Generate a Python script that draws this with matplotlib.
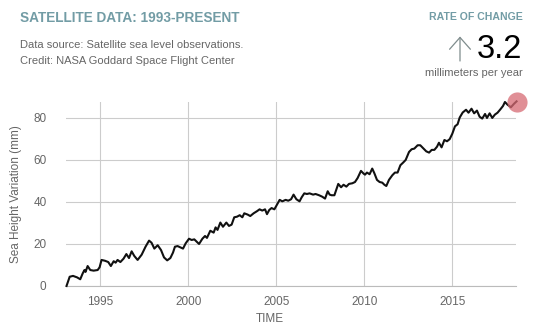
import numpy as np
import matplotlib
matplotlib.use("Agg")
import matplotlib.pyplot as plt
from matplotlib.patches import FancyArrowPatch

plt.rcParams["font.family"] = ["Liberation Sans", "DejaVu Sans"]

# satellite sea level record (year, mm)
years = [
    1993.08, 1993.26, 1993.45, 1993.68, 1993.86, 1994.00, 1994.10, 1994.16, 1994.28, 1994.43,
    1994.62, 1994.85, 1994.96, 1995.07, 1995.27, 1995.45, 1995.60, 1995.76, 1995.87, 1995.98,
    1996.14, 1996.32, 1996.48, 1996.63, 1996.78, 1996.93, 1997.12, 1997.35, 1997.57, 1997.77,
    1997.91, 1998.07, 1998.26, 1998.45, 1998.62, 1998.80, 1998.98, 1999.13, 1999.24, 1999.39,
    1999.55, 1999.70, 1999.85, 2000.04, 2000.19, 2000.34, 2000.61, 2000.80, 2000.95, 2001.06,
    2001.25, 2001.44, 2001.55, 2001.66, 2001.82, 2001.97, 2002.16, 2002.31, 2002.46, 2002.61,
    2002.77, 2002.92, 2003.07, 2003.18, 2003.37, 2003.52, 2003.71, 2003.90, 2004.05, 2004.20,
    2004.36, 2004.47, 2004.60, 2004.73, 2004.89, 2005.04, 2005.19, 2005.34, 2005.53, 2005.68,
    2005.84, 2005.98, 2006.14, 2006.32, 2006.44, 2006.59, 2006.74, 2006.89, 2007.09, 2007.23,
    2007.43, 2007.61, 2007.77, 2007.92, 2008.03, 2008.14, 2008.30, 2008.52, 2008.68, 2008.82,
    2008.98, 2009.13, 2009.32, 2009.47, 2009.62, 2009.81, 2009.96, 2010.04, 2010.15, 2010.30,
    2010.45, 2010.57, 2010.72, 2010.87, 2011.02, 2011.14, 2011.25, 2011.40, 2011.59, 2011.74,
    2011.89, 2012.05, 2012.20, 2012.35, 2012.54, 2012.69, 2012.84, 2013.03, 2013.18, 2013.37,
    2013.52, 2013.68, 2013.83, 2013.98, 2014.13, 2014.24, 2014.39, 2014.55, 2014.70, 2014.85,
    2015.00, 2015.15, 2015.30, 2015.42, 2015.59, 2015.78, 2015.92, 2016.09, 2016.24, 2016.40,
    2016.55, 2016.70, 2016.86, 2016.97, 2017.12, 2017.27, 2017.42, 2017.57, 2017.73, 2017.88,
    2017.99, 2018.14, 2018.33, 2018.50, 2018.65,
]
sea_mm = [
    0.0, 4.4, 4.8, 4.1, 3.2, 6.0, 7.6, 6.7, 9.5, 7.6,
    7.3, 7.6, 8.9, 12.4, 12.0, 11.4, 9.5, 11.8, 11.1, 12.4,
    11.4, 13.0, 15.2, 13.3, 16.5, 14.3, 12.4, 14.9, 18.7, 21.6,
    20.6, 17.8, 19.4, 17.1, 13.6, 12.2, 13.3, 15.9, 18.7, 19.0,
    18.4, 17.8, 20.3, 22.5, 21.9, 22.2, 20.0, 22.5, 23.8, 22.9,
    26.3, 25.4, 27.9, 26.7, 30.2, 28.2, 30.2, 28.6, 29.2, 32.7,
    33.0, 33.7, 32.7, 34.6, 34.0, 33.3, 34.6, 35.6, 36.5, 35.9,
    36.5, 34.2, 36.2, 37.1, 36.5, 38.7, 41.0, 40.3, 41.0, 40.6,
    41.3, 43.5, 41.3, 40.3, 42.2, 44.1, 43.8, 44.1, 43.5, 43.8,
    43.2, 42.5, 41.6, 45.1, 43.5, 43.2, 43.2, 48.6, 47.0, 48.2,
    47.3, 48.6, 48.9, 49.5, 51.4, 54.8, 53.5, 53.0, 54.0, 53.2,
    55.9, 53.7, 50.5, 49.5, 49.2, 48.2, 47.6, 50.5, 52.7, 54.0,
    54.0, 57.5, 58.7, 60.0, 63.8, 65.1, 65.4, 67.0, 67.0, 65.4,
    64.1, 63.5, 64.8, 64.8, 66.3, 68.2, 66.0, 69.5, 68.9, 69.9,
    72.5, 76.0, 77.0, 80.2, 82.6, 83.9, 82.5, 84.4, 82.2, 83.5,
    80.6, 79.7, 81.9, 80.0, 82.2, 80.0, 81.6, 82.5, 84.1, 85.7,
    87.6, 86.3, 85.1, 86.7, 87.9,
]
xticks = [1995, 2000, 2005, 2010, 2015]
yticks = [0, 20, 40, 60, 80]

TITLE_C = "#729ca5"
GREY = "#666666"

fig = plt.figure(figsize=(5.4, 3.32), dpi=100)
ax = fig.add_axes([0.1222, 0.1386, 0.8334, 0.5542])

ax.plot(years, sea_mm, color="#111111", lw=1.5, zorder=3, clip_on=False)
ax.plot(years[-1], sea_mm[-1] - 0.3, "o", ms=14.5, color="#d66a73", alpha=0.75,
        mec="none", zorder=4, clip_on=False)

ax.set_xlim(1993.05, 2018.62)
ax.set_ylim(0, 87.6)
ax.set_xticks(xticks)
ax.set_yticks(yticks)
ax.grid(True, color="#cccccc", lw=0.8)
ax.set_axisbelow(True)
for s in ("top", "right", "left"):
    ax.spines[s].set_visible(False)
ax.spines["bottom"].set_color("#bbbbbb")
ax.spines["bottom"].set_linewidth(0.8)
ax.tick_params(axis="both", length=0, labelsize=8.5, labelcolor=GREY)
ax.tick_params(axis="y", pad=14)
ax.tick_params(axis="x", pad=7)
ax.set_ylabel("Sea Height Variation (mm)", fontsize=8.5, color=GREY, labelpad=8)

fig.text(0.5, 1 - 319 / 332, "TIME", ha="center", va="center", fontsize=8.5, color=GREY)

# header block
fig.text(20 / 540, 1 - 18 / 332, "SATELLITE DATA: 1993-PRESENT", fontsize=9.8,
         fontweight="bold", color=TITLE_C, ha="left", va="center")
fig.text(20 / 540, 1 - 45 / 332, "Data source: Satellite sea level observations.",
         fontsize=8, color=GREY, ha="left", va="center")
fig.text(20 / 540, 1 - 61 / 332, "Credit: NASA Goddard Space Flight Center",
         fontsize=8, color=GREY, ha="left", va="center")

fig.text(523 / 540, 1 - 17 / 332, "RATE OF CHANGE", fontsize=7.6, fontweight="bold",
         color=TITLE_C, ha="right", va="center")
fig.text(522 / 540, 1 - 58.5 / 332, "3.2", fontsize=23.5, color="black",
         ha="right", va="baseline")
fig.text(523 / 540, 1 - 73 / 332, "millimeters per year", fontsize=8, color=GREY,
         ha="right", va="center")
arrow = FancyArrowPatch((460 / 540, 1 - 61 / 332), (460 / 540, 1 - 36.5 / 332),
                        transform=fig.transFigure,
                        arrowstyle="->,head_length=8.5,head_width=7.5",
                        color="#7f8c8d", lw=0.9, mutation_scale=1.0,
                        shrinkA=0, shrinkB=0)
fig.add_artist(arrow)

fig.savefig("out.png", dpi=100)
